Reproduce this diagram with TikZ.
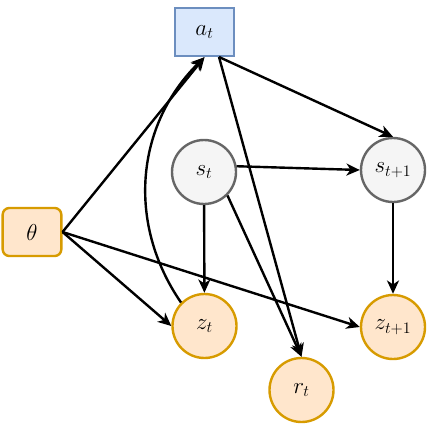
\documentclass[tikz,border=0pt]{standalone}
\usetikzlibrary{arrows.meta}
\definecolor{actfill}{HTML}{DAE8FC}
\definecolor{actdraw}{HTML}{6C8EBF}
\definecolor{obsfill}{HTML}{FFE6CC}
\definecolor{obsdraw}{HTML}{D79B00}
\definecolor{latfill}{HTML}{F5F5F5}
\definecolor{latdraw}{HTML}{666666}
\newcommand{\nodefont}{\fontsize{17}{19}\selectfont}
\begin{document}
\begin{tikzpicture}[x=0.75pt, y=-0.75pt, line width=1.8pt, >={Stealth[length=10pt,width=9pt,inset=3pt]},
    latent/.style={circle, draw=latdraw, fill=latfill, minimum size=48pt, inner sep=0pt, font=\nodefont},
    obs/.style={circle, draw=obsdraw, fill=obsfill, minimum size=48pt, inner sep=0pt, font=\nodefont},
    act/.style={rectangle, draw=actdraw, fill=actfill, minimum width=44pt, minimum height=36pt, font=\nodefont},
    param/.style={rectangle, rounded corners=5pt, draw=obsdraw, fill=obsfill, minimum width=44pt, minimum height=36pt, font=\nodefont}]
\useasboundingbox (0,0) rectangle (427,424);

\node[act] (at) at (204.5,32) {$a_t$};
\node[param] (theta) at (32,232) {$\theta$};
\node[latent] (st) at (204,172) {$s_t$};
\node[latent] (st1) at (393,170) {$s_{t+1}$};
\node[obs] (zt) at (204.5,326) {$z_t$};
\node[obs] (zt1) at (393,327) {$z_{t+1}$};
\node[obs] (rt) at (301.5,390) {$r_t$};
\coordinate (aout) at (219,57);

\draw[->] (theta.east) -- (at.south);
\draw[->] (zt.135) to[bend left=40] (at.south);
\draw[->] (aout) -- (st1.north);
\draw[->] (aout) -- (rt.north);
\draw[->] (st.10) -- (st1.west);
\draw[->] (st) -- (zt);
\draw[->] (st.-45) -- (rt.north);
\draw[->] (st1) -- (zt1);
\draw[->] (theta.east) -- (zt.west);
\draw[->] (theta.east) -- (zt1.west);

 \end{tikzpicture}
\end{document}
